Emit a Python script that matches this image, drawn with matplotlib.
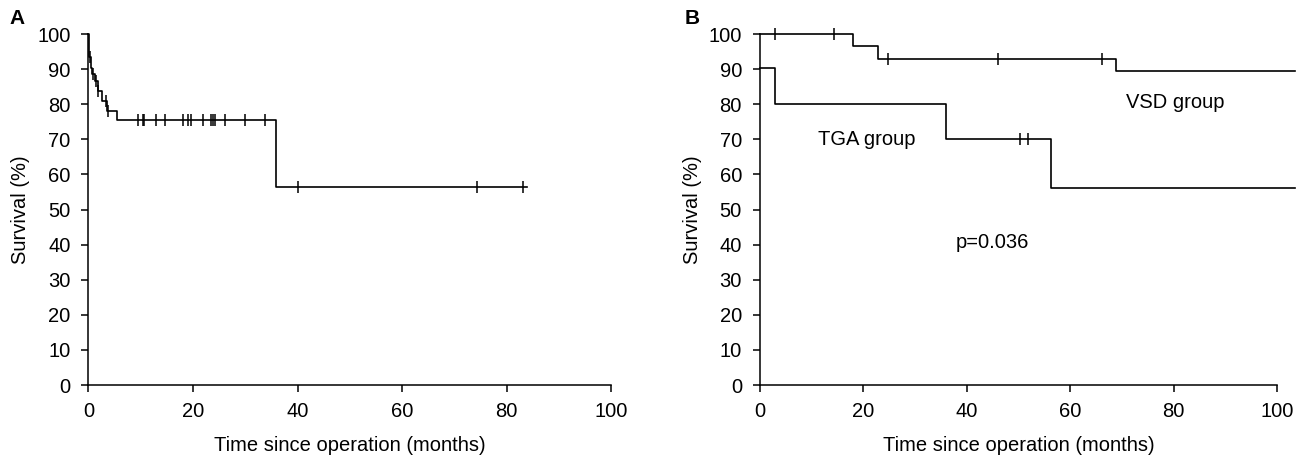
import numpy as np
import matplotlib
matplotlib.use("Agg")
import matplotlib.pyplot as plt

plt.rcParams['font.family'] = ['Liberation Sans', 'DejaVu Sans']

# Panel A: overall survival (step points, post)
a_t = [0, 0.1, 0.4, 0.7, 1.3, 1.8, 2.6, 3.5, 5.4, 35.8, 83.8]
a_s = [100, 93.5, 90.3, 88.7, 86.5, 83.9, 81.0, 78.2, 75.5, 56.5, 56.5]
a_cens = [0.2, 0.9, 1.5, 1.9, 3.3, 3.7, 9.45, 10.5, 10.7, 13.0, 14.6, 18.1, 19.1,
          19.6, 22.0, 23.5, 23.8, 24.2, 26.2, 30.0, 33.7, 40.1, 74.4, 83.1]

# Panel B: VSD group and TGA group
vsd_t = [0, 17.9, 22.8, 68.9, 103.5]
vsd_s = [100, 96.6, 93.0, 89.4, 89.4]
vsd_cens = [2.9, 14.3, 24.8, 46.1, 66.1]

tga_t = [0, 2.9, 36.0, 56.2, 103.5]
tga_s = [90.2, 80.0, 70.2, 56.0, 56.0]
tga_cens = [50.3, 51.9]

xticks = [0, 20, 40, 60, 80, 100]
yticks = list(range(0, 101, 10))

FS = 14.5


def step_value(t, s, x):
    idx = np.searchsorted(t, x, side='right') - 1
    return np.asarray(s)[idx]


def km(ax, t, s, cens):
    ax.step(t, s, where='post', color='black', lw=1.2, clip_on=False)
    ax.plot(cens, step_value(t, s, cens), ls='none', marker='|',
            ms=9, mew=1.1, color='black', clip_on=False)


def style(ax):
    ax.set_xlim(0, 100)
    ax.set_ylim(0, 100)
    ax.set_xticks(xticks)
    ax.set_yticks(yticks)
    for side in ('top', 'right'):
        ax.spines[side].set_visible(False)
    for side in ('left', 'bottom'):
        ax.spines[side].set_linewidth(1.1)
    ax.tick_params(direction='out', length=5, width=1.1, labelsize=FS)
    ax.tick_params(axis='x', pad=7)
    ax.tick_params(axis='y', pad=8)
    ax.set_xlabel('Time since operation (months)', fontsize=FS, labelpad=11)
    ax.set_ylabel('Survival (%)', fontsize=FS, labelpad=5)


fig = plt.figure(figsize=(13.07, 4.55), dpi=100)
ax_a = fig.add_axes([0.0677, 0.1538, 0.400, 0.7714])
ax_b = fig.add_axes([0.5815, 0.1538, 0.3956, 0.7714])

km(ax_a, a_t, a_s, a_cens)
style(ax_a)

km(ax_b, vsd_t, vsd_s, vsd_cens)
km(ax_b, tga_t, tga_s, tga_cens)
style(ax_b)
ax_b.text(20.7, 70.0, 'TGA group', fontsize=FS, ha='center', va='center')
ax_b.text(80.3, 80.5, 'VSD group', fontsize=FS, ha='center', va='center')
ax_b.text(45.0, 40.5, 'p=0.036', fontsize=FS, ha='center', va='center')

fig.text(9 / 1307, 1 - 18 / 455, 'A', fontsize=15, fontweight='bold', va='center')
fig.text(685 / 1307, 1 - 18 / 455, 'B', fontsize=15, fontweight='bold', va='center')

fig.savefig('out.png', dpi=100)
